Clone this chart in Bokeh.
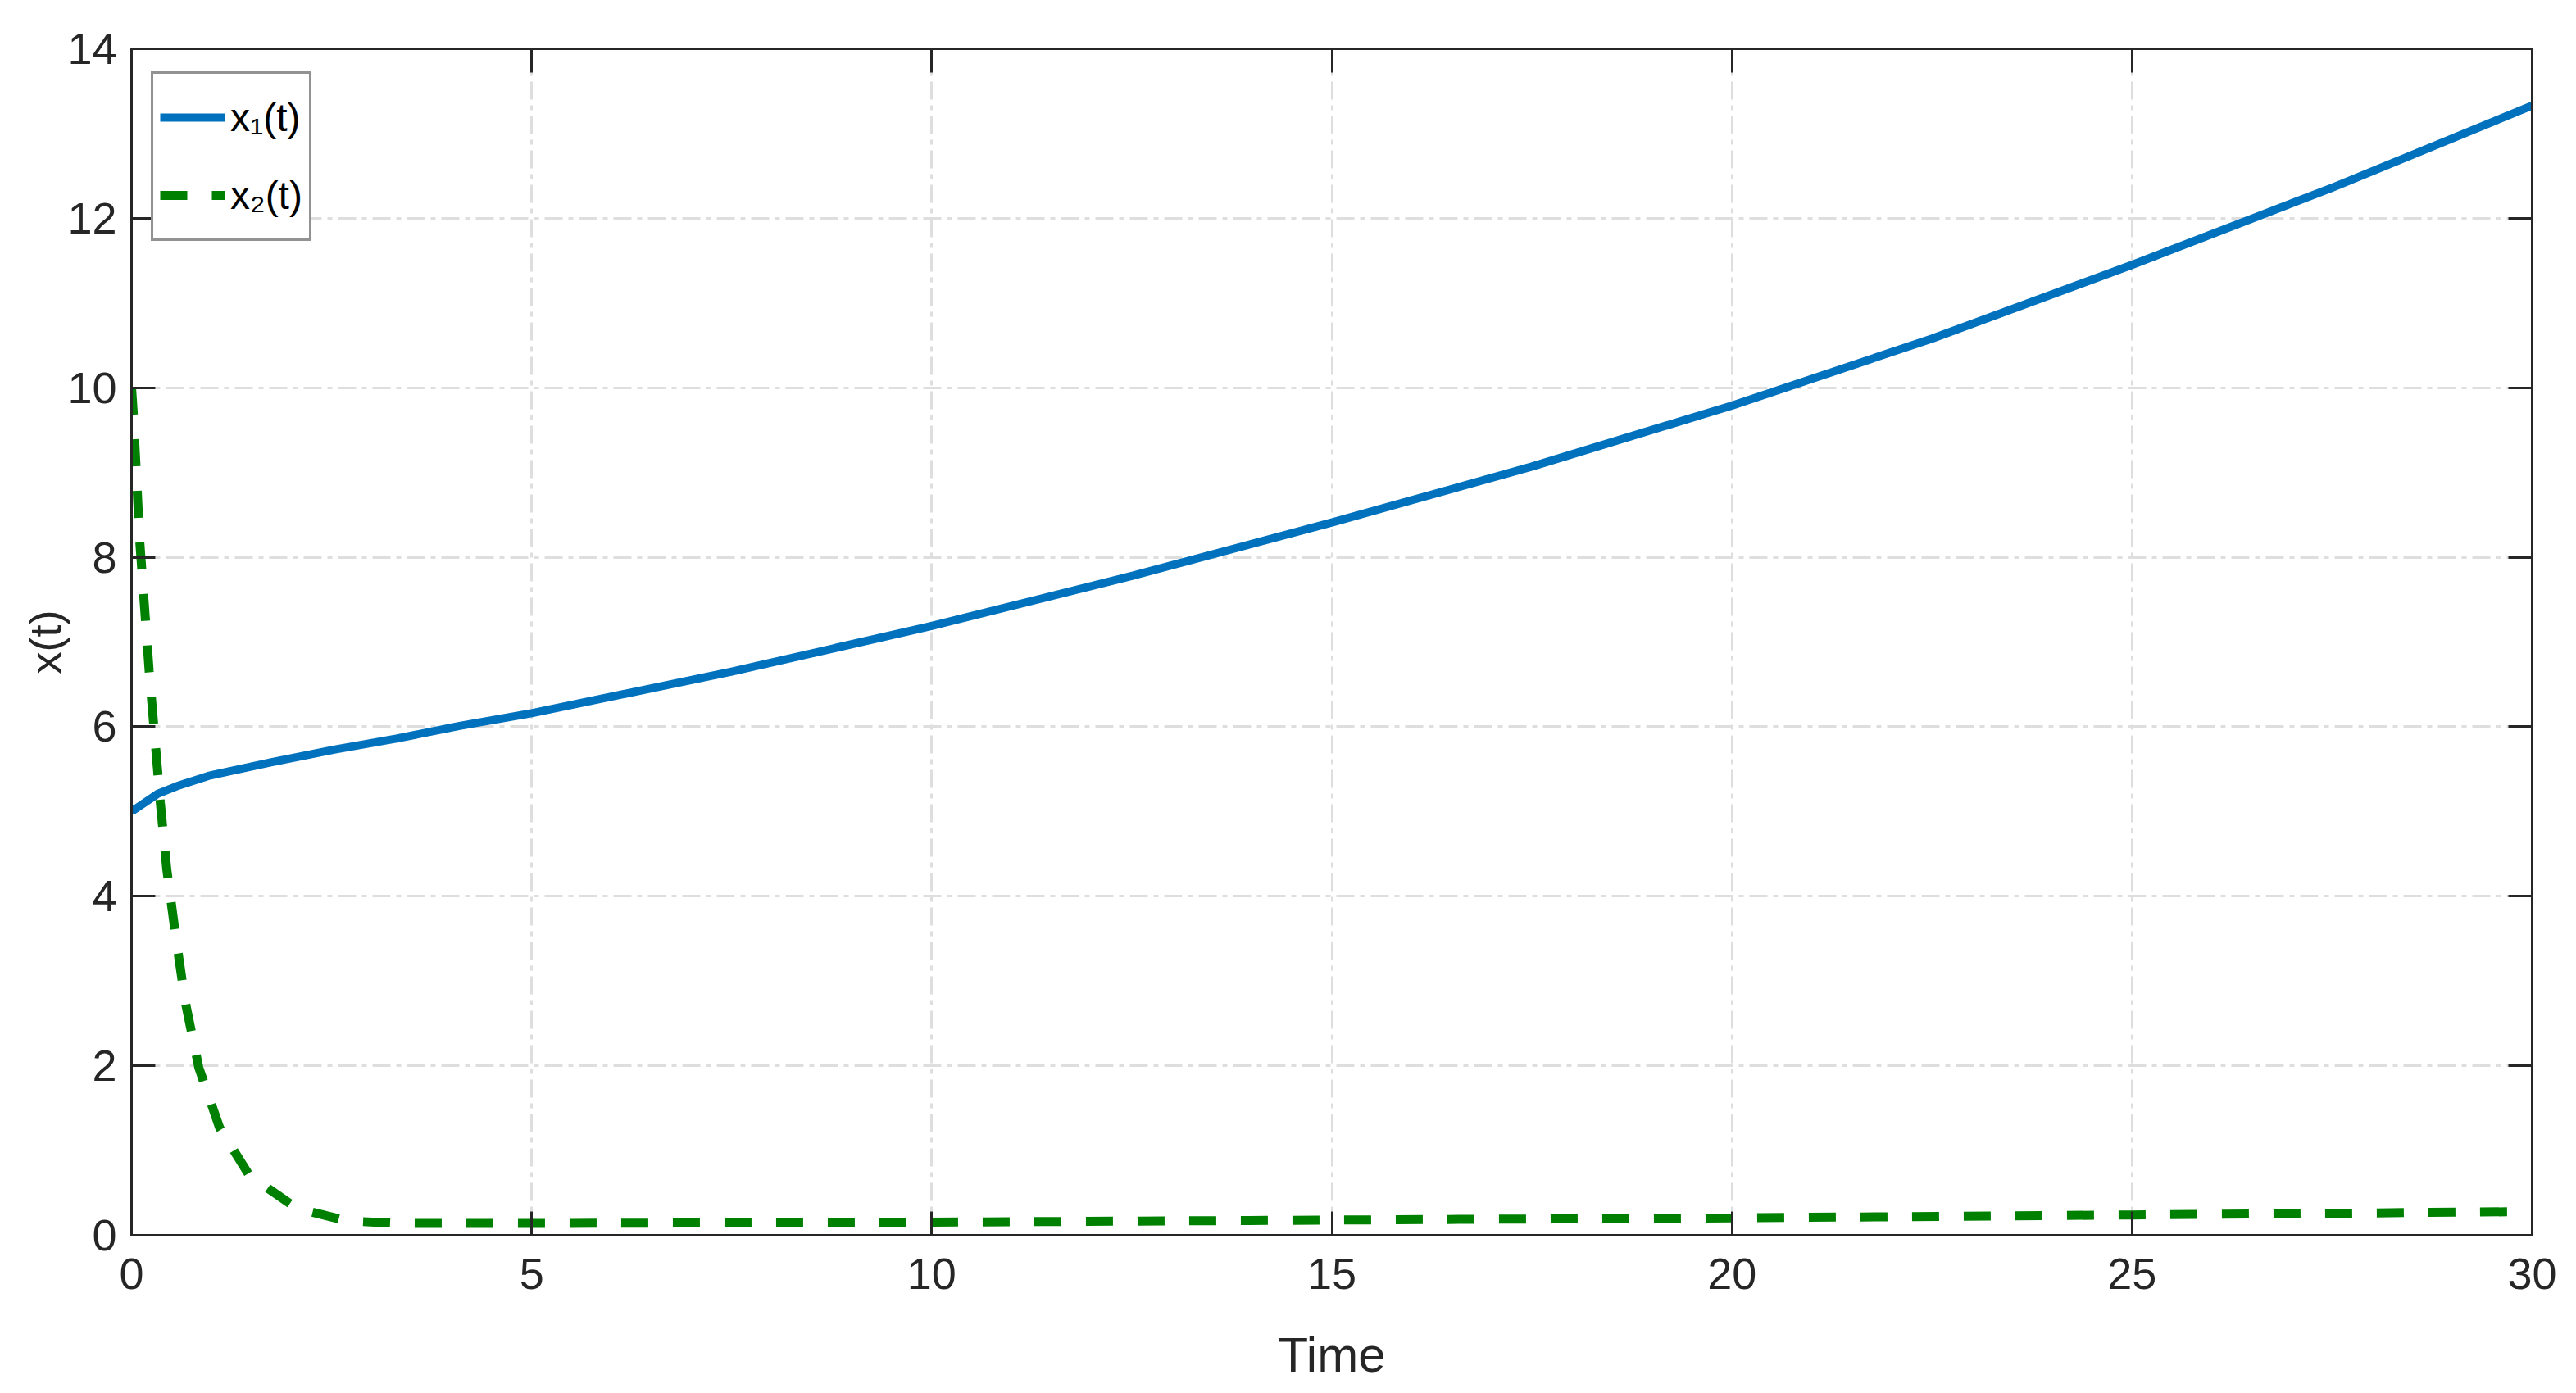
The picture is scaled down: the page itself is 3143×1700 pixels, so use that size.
from bokeh.plotting import figure
from bokeh.models import (Range1d, FixedTicker, LinearAxis, Legend, LegendItem,
                          CustomJSTickFormatter)
from bokeh.embed import file_html
from bokeh.resources import INLINE

# ---- data ----
t1 = [0.0, 0.33, 0.57, 0.96, 1.74, 2.53, 3.31, 4.10, 5.0, 7.5, 10.0, 12.5,
      15.0, 17.5, 20.0, 22.5, 25.0, 27.5, 30.0]
x1 = [5.00, 5.21, 5.30, 5.42, 5.58, 5.73, 5.86, 6.01, 6.16, 6.65, 7.19, 7.78,
      8.41, 9.07, 9.79, 10.58, 11.45, 12.36, 13.33]

t2 = [0.0, 0.02, 0.06, 0.10, 0.16, 0.22, 0.29, 0.36, 0.44, 0.55, 0.67, 0.84,
      1.10, 1.47, 2.06, 2.69, 3.35, 3.98, 4.65, 5.27, 10.0, 15.0, 20.0, 25.0, 30.0]
x2 = [10.0, 9.72, 9.00, 8.22, 7.44, 6.66, 5.88, 5.10, 4.32, 3.54, 2.76, 1.98,
      1.27, 0.71, 0.32, 0.17, 0.14, 0.14, 0.14, 0.14, 0.155, 0.18, 0.205, 0.24, 0.28]

x_ticks = [0, 5, 10, 15, 20, 25, 30]
y_ticks = [0, 2, 4, 6, 8, 10, 12, 14]
labels = ["x\u2081(t)", "x\u2082(t)"]
x_label = "Time"
y_label = "x(t)"

AX = "#262626"
FONT = "Liberation Sans"

p = figure(width=3140, height=1696, output_backend="svg", toolbar_location=None,
           x_range=Range1d(0, 30), y_range=Range1d(0, 14),
           min_border_left=160, min_border_right=51, min_border_top=59,
           min_border_bottom=189)
p.background_fill_color = "white"
p.border_fill_color = "white"
p.outline_line_color = AX
p.outline_line_width = 3

r1 = p.line(t1, x1, line_color="#0072BD", line_width=10, line_join="round")
r2 = p.line(t2, x2, line_color="#008000", line_width=11, line_dash="33 30")

def style_axis(ax, ticks, show_labels):
    ax.ticker = FixedTicker(ticks=ticks)
    ax.axis_line_color = AX
    ax.axis_line_width = 3
    ax.major_tick_line_color = AX
    ax.major_tick_line_width = 3
    ax.major_tick_in = 29
    ax.major_tick_out = 0
    ax.minor_tick_line_color = None
    ax.major_label_text_color = AX
    ax.major_label_text_font = FONT
    ax.major_label_text_font_size = "54px"
    if not show_labels:
        ax.formatter = CustomJSTickFormatter(code="return ''")

style_axis(p.xaxis[0], x_ticks, True)
style_axis(p.yaxis[0], y_ticks, True)
p.xaxis[0].major_label_standoff = 28
p.yaxis[0].major_label_standoff = 18
p.xaxis[0].axis_label = x_label
p.xaxis[0].axis_label_text_font = FONT
p.xaxis[0].axis_label_text_font_size = "60px"
p.xaxis[0].axis_label_text_font_style = "normal"
p.xaxis[0].axis_label_text_color = AX
p.xaxis[0].axis_label_standoff = 44
p.yaxis[0].axis_label = y_label
p.yaxis[0].axis_label_text_font = FONT
p.yaxis[0].axis_label_text_font_size = "54px"
p.yaxis[0].axis_label_text_font_style = "normal"
p.yaxis[0].axis_label_text_color = AX
p.yaxis[0].axis_label_standoff = -6

ra = LinearAxis()
style_axis(ra, y_ticks, False)
p.add_layout(ra, "right")
ta = LinearAxis()
style_axis(ta, x_ticks, False)
p.add_layout(ta, "above")

for g, ticks in ((p.xgrid[0], x_ticks), (p.ygrid[0], y_ticks)):
    g.ticker = FixedTicker(ticks=ticks)
    g.grid_line_color = "#dedede"
    g.grid_line_width = 3
    g.grid_line_dash = "22 7 6 7"

legend = Legend(items=[LegendItem(label=labels[0], renderers=[r1]),
                       LegendItem(label=labels[1], renderers=[r2])],
                location=(24, 1213))
legend.border_line_color = AX
legend.border_line_width = 3
legend.background_fill_color = "white"
legend.background_fill_alpha = 1.0
legend.padding = 8
legend.spacing = 5
legend.margin = 0
legend.glyph_width = 80
legend.glyph_height = 90
legend.label_height = 90
legend.label_standoff = 6
legend.label_text_font = FONT
legend.label_text_font_size = "48px"
legend.label_text_color = "black"
p.add_layout(legend)

open("out.html", "w").write(file_html(p, INLINE))
